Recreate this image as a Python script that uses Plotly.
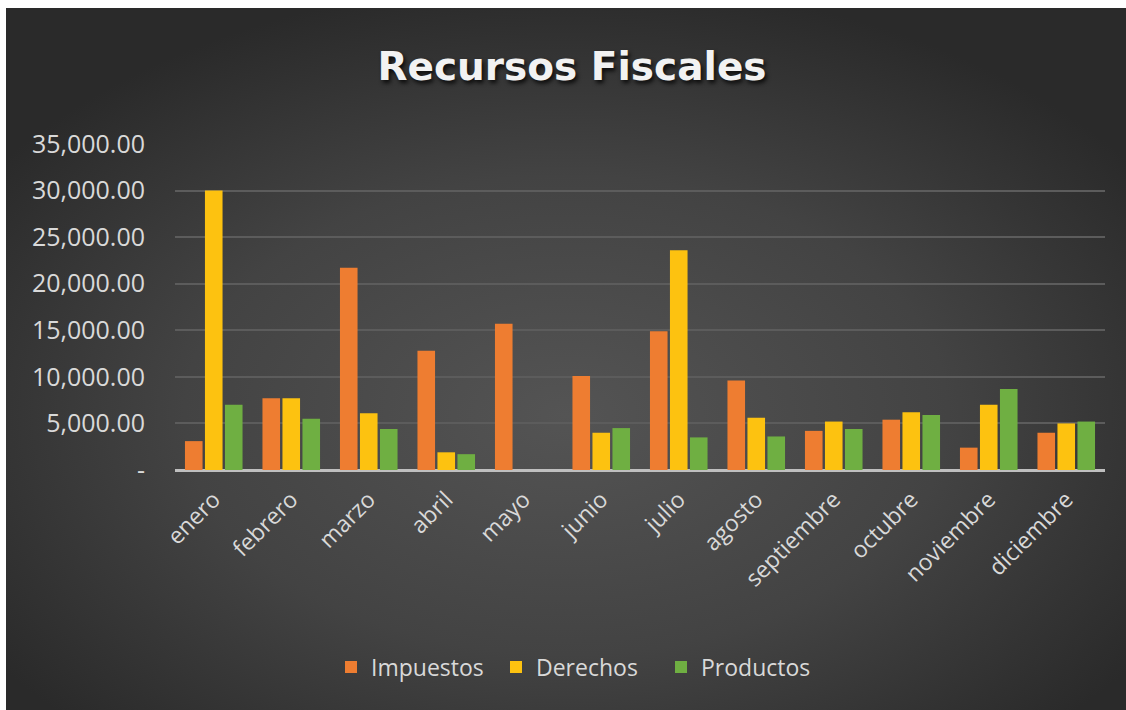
import base64
import plotly.graph_objects as go

meses = ["enero", "febrero", "marzo", "abril", "mayo", "junio", "julio",
         "agosto", "septiembre", "octubre", "noviembre", "diciembre"]
impuestos = [3100, 7700, 21700, 12800, 15700, 10100, 14900, 9600, 4200, 5400, 2400, 4000]
derechos = [30000, 7700, 6100, 1900, 0, 4000, 23600, 5600, 5200, 6200, 7000, 5000]
productos = [7000, 5500, 4400, 1700, 0, 4500, 3500, 3600, 4400, 5900, 8700, 5200]

y_ticks = [0, 5000, 10000, 15000, 20000, 25000, 30000, 35000]
y_ticktext = ["-"] + [f"{v:,.2f}" for v in y_ticks[1:]]

series = [
    ("Impuestos", impuestos, "#EE7D31"),
    ("Derechos", derechos, "#FDC210"),
    ("Productos", productos, "#6FAF42"),
]

W, H = 1126, 710
L, R, T, B = 175, 21, 143, 240
pw, ph = W - L - R, H - T - B
BX, BY = 6, 8  # white border at left / top of the original picture

svg = (
    '<svg xmlns="http://www.w3.org/2000/svg" width="1120" height="702" '
    'viewBox="0 0 1120 702" preserveAspectRatio="none">'
    '<defs><radialGradient id="g" cx="0.5" cy="0.58" r="0.62">'
    '<stop offset="0" stop-color="#545454"/>'
    '<stop offset="0.55" stop-color="#434343"/>'
    '<stop offset="1" stop-color="#2a2a2a"/>'
    '</radialGradient></defs>'
    '<rect x="0" y="0" width="1120" height="702" fill="url(#g)"/></svg>'
)
src = "data:image/svg+xml;base64," + base64.b64encode(svg.encode()).decode()

fig = go.Figure()
for name, vals, col in series:
    fig.add_trace(go.Bar(
        x=meses, y=vals, name=name,
        marker=dict(color=col, line=dict(width=0)),
        hoverinfo="x+y+name",
    ))

font_fam = "Open Sans, Lato, sans-serif"
fig.update_layout(
    width=W, height=H,
    margin=dict(l=L, r=R, t=T, b=B, autoexpand=False),
    paper_bgcolor="white",
    plot_bgcolor="rgba(0,0,0,0)",
    barmode="group",
    bargap=0.226,
    bargroupgap=0.12,
    title=dict(
        text="<b>Recursos Fiscales</b>",
        x=572 / W, xanchor="center", xref="container",
        y=1 - 66 / H, yanchor="middle", yref="container",
        font=dict(family="DejaVu Sans, sans-serif", size=39, color="#f2f2f2",
                  shadow="2px 3px 4px rgba(0,0,0,0.8)"),
    ),
    font=dict(family=font_fam, color="#d9d9d9"),
    xaxis=dict(
        tickangle=-45,
        tickfont=dict(size=23, color="#d9d9d9"),
        showgrid=False,
        showline=False,
        ticks="outside", ticklen=6, tickcolor="rgba(0,0,0,0)",
    ),
    yaxis=dict(
        range=[0, 35100],
        tickvals=y_ticks, ticktext=y_ticktext,
        tickfont=dict(size=25, color="#d9d9d9"),
        showgrid=True, gridcolor="#5c5c5c", gridwidth=1.5,
        zeroline=True, zerolinecolor="#bfbfbf", zerolinewidth=3,
        showline=False,
        ticks="outside", ticklen=24, tickcolor="rgba(0,0,0,0)",
    ),
    legend=dict(
        orientation="h",
        x=(347 - 16) / W, xanchor="left", xref="container",
        y=1 - 667 / H, yanchor="middle", yref="container",
        font=dict(size=23, color="#d9d9d9"),
        itemwidth=30,
        entrywidth=120, entrywidthmode="pixels",
        traceorder="normal",
        bgcolor="rgba(0,0,0,0)",
    ),
    images=[dict(
        source=src, xref="paper", yref="paper",
        x=(BX - L) / pw, y=1 + (T - BY) / ph,
        sizex=(W - BX) / pw, sizey=(H - BY) / ph,
        xanchor="left", yanchor="top",
        sizing="stretch", layer="below",
    )],
    showlegend=True,
)

fig.write_html("out.html", config={"displayModeBar": False},
               post_script="document.body.style.margin='0';")
